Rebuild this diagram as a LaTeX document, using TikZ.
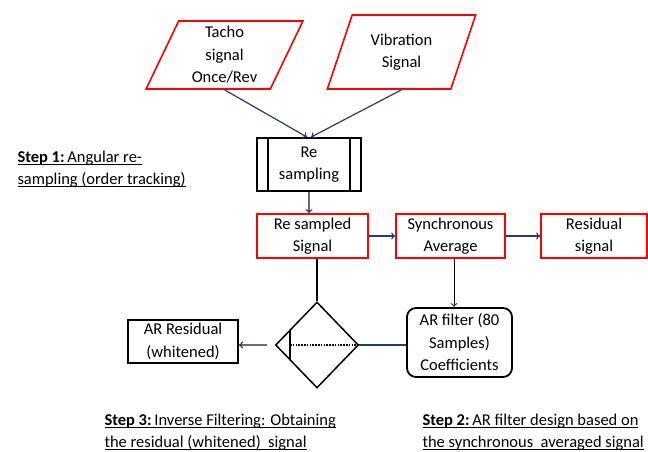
\documentclass[tikz,border=0pt]{standalone}
\usepackage{fontspec}
\setmainfont{Carlito}
\usetikzlibrary{shapes.geometric,arrows.meta}
\definecolor{boxred}{RGB}{255,0,0}
\definecolor{arrowblue}{RGB}{38,58,118}
\definecolor{linegray}{RGB}{110,110,110}
\newcommand{\stepline}[1]{\leavevmode\setbox0=\hbox{#1}\rlap{\copy0}\rule[-2.8pt]{\wd0}{0.9pt}}

\begin{document}
\begin{tikzpicture}[align=center,font=\fontsize{16.5}{22.5}\selectfont,>={To[length=4pt,width=7pt]}]
    \tikzstyle{inputdata} = [draw=boxred,line width=1.6pt,trapezium,trapezium left angle=68,trapezium right angle=112,trapezium stretches=true,inner sep=2pt]
    \tikzstyle{signalbox} = [draw=boxred,line width=1.6pt,rectangle,minimum height=44pt,inner sep=2pt]
    \tikzstyle{process} = [draw,line width=1.8pt,rectangle,inner sep=2pt]
    \tikzstyle{flow} = [->,arrowblue,line width=1.2pt]
    \tikzstyle{steptext} = [anchor=west,align=left]
    \useasboundingbox (0pt,0pt) rectangle (648pt,-452pt);
      \node[inputdata,minimum width=157pt,minimum height=68pt] (tacho) at (224.5pt,-55pt) {Tacho\\signal\\Once/Rev};
      \node[inputdata,minimum width=149pt,minimum height=74pt] (vib) at (401.5pt,-52pt) {Vibration\\Signal};
      \node[process,minimum width=104pt,minimum height=53pt] (resamp) at (309pt,-164.5pt) {Re\\sampling};
      \draw[line width=1.8pt] ([xshift=12pt]resamp.north west) -- ([xshift=12pt]resamp.south west);
      \draw[line width=1.8pt] ([xshift=-12pt]resamp.north east) -- ([xshift=-12pt]resamp.south east);
      \node[signalbox,minimum width=111pt] (resig) at (312.5pt,-236pt) {Re sampled\\Signal};
      \node[signalbox,minimum width=109pt] (sync) at (450.5pt,-236pt) {Synchronous\\Average};
      \node[signalbox,minimum width=106pt] (resid) at (594pt,-236pt) {Residual\\signal};
      \node[draw,line width=1.5pt,diamond,minimum width=83pt,minimum height=86pt,inner sep=0pt] (inv) at (317pt,-345pt) {};
      \node[process,rounded corners=9pt,minimum width=105pt,minimum height=69pt] (arfilt) at (459.5pt,-342.5pt) {AR filter (80\\Samples)\\Coefficients};
      \node[process,minimum width=110pt,minimum height=43pt] (arres) at (183pt,-341.5pt) {AR Residual\\(whitened)};
      \draw[line width=1.3pt] ([xshift=-27pt,yshift=15pt]inv.center) -- ([xshift=-27pt,yshift=-15pt]inv.center);
      \draw[line width=1.6pt,dash pattern=on 1.6pt off 1.2pt] ([xshift=-27pt]inv.center) -- (inv.east);
      \draw[flow] (tacho.south) -- ([xshift=-2pt]resamp.north);
      \draw[flow] (vib.south) -- ([xshift=2pt]resamp.north);
      \draw[linegray,line width=1.2pt,-{To[color=arrowblue,length=4pt,width=7pt]}] (resamp.south) -- (resamp.south |- resig.north);
      \draw[flow] (resig.east) -- (sync.west);
      \draw[flow] (sync.east) -- (resid.west);
      \draw[line width=1.8pt] (inv.north |- resig.south) -- (inv.north);
      \draw[black,line width=0.9pt,-{To[color=arrowblue,length=4pt,width=7pt]}] ([xshift=3.5pt]sync.south) -- ([xshift=3.5pt]sync.south |- arfilt.north);
      \draw[arrowblue,line width=1.2pt] (arfilt.west |- inv.east) -- (inv.east);
      \draw[linegray,line width=1.2pt,-{To[color=arrowblue,length=4pt,width=7pt]},shorten <=8pt] (inv.west) -- (inv.west -| arres.east);
      \node[steptext] (step1) at (14pt,-169pt) {\stepline{\textbf{Step 1:}\,Angular re-}\\\stepline{sampling (order tracking)}};
      \node[steptext] (step3) at (101pt,-432pt) {\stepline{\textbf{Step 3:}\,Inverse Filtering: Obtaining}\\\stepline{the residual (whitened)\ \ signal}};
      \node[steptext] (step2) at (419pt,-432pt) {\stepline{\textbf{Step 2:}\,AR filter design based on}\\\stepline{the synchronous\ \ averaged signal}};
  \end{tikzpicture}
\end{document}
